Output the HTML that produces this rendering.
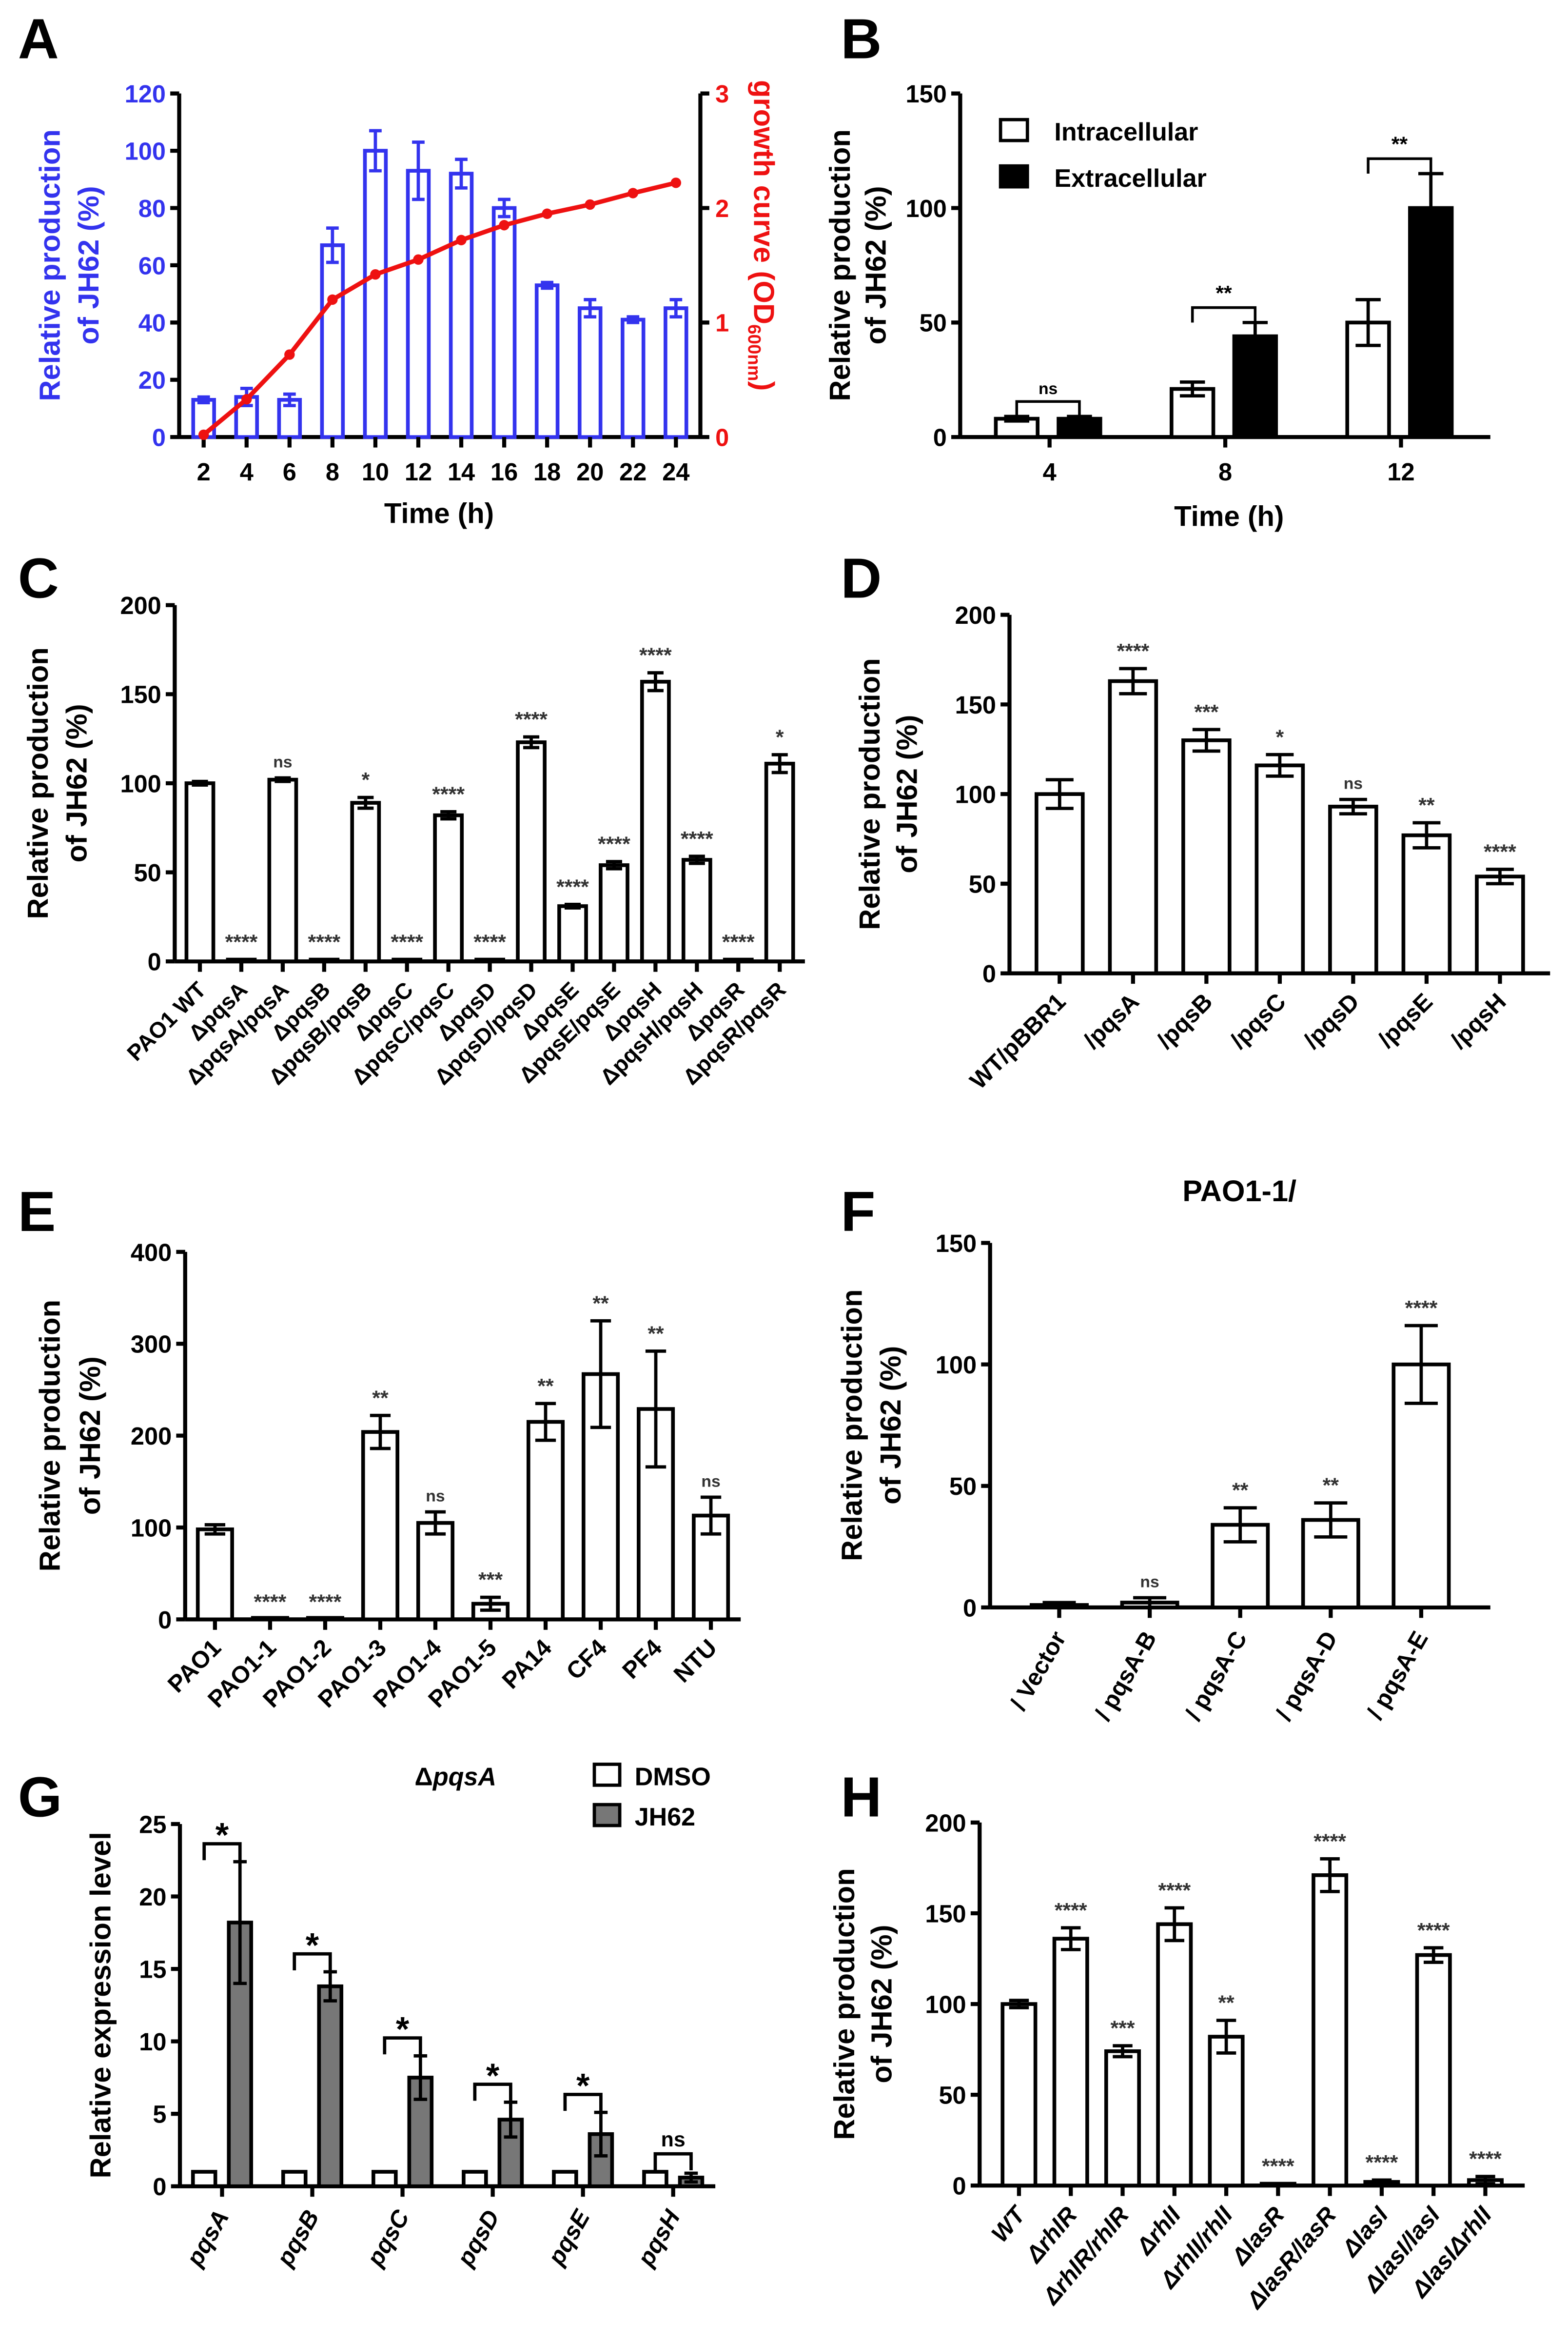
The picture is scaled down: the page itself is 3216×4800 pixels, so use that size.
<!DOCTYPE html>
<html><head><meta charset="utf-8"><style>
html,body{margin:0;padding:0;background:#fff}
svg{display:block}
text{font-family:"Liberation Sans",Arial,sans-serif;font-weight:bold}
</style></head><body>
<svg id="fig" xmlns="http://www.w3.org/2000/svg" width="3216" height="4800" viewBox="0 0 1050 1567"></svg>
<script>
// ---- Panel A data
const aCats=["2","4","6","8","10","12","14","16","18","20","22","24"];
const aVals=[13,14,13,67,100,93,92,80,53,45,41,45];
const aErr=[1,3,2,6,7,10,5,3,1,3,1,3];
const aGrowth=[0.02,0.33,0.72,1.2,1.42,1.55,1.72,1.85,1.95,2.03,2.13,2.22];
const aTicks=[0,20,40,60,80,100,120];
const aRTicks=[0,1,2,3];
// ---- Panel B data
const bCats=["4","8","12"];
const bIntra=[8,21,50];const bIntraErr=[1,3,10];
const bExtra=[8,44,100];const bExtraErr=[1,6,15];
const bSig=["ns","**","**"];
const bTicks=[0,50,100,150];
// ---- Panel C data
const cCats=["PAO1 WT","ΔpqsA","ΔpqsA/pqsA","ΔpqsB","ΔpqsB/pqsB","ΔpqsC","ΔpqsC/pqsC","ΔpqsD","ΔpqsD/pqsD","ΔpqsE","ΔpqsE/pqsE","ΔpqsH","ΔpqsH/pqsH","ΔpqsR","ΔpqsR/pqsR"];
const cVals=[100,1,102,1,89,1,82,1,123,31,54,157,57,1,111];
const cErr=[1,0,1,0,3,0,2,0,3,1,2,5,2,0,5];
const cSig=["","****","ns","****","*","****","****","****","****","****","****","****","****","****","*"];
const cTicks=[0,50,100,150,200];
// ---- Panel D data
const dCats=["WT/pBBR1","/pqsA","/pqsB","/pqsC","/pqsD","/pqsE","/pqsH"];
const dVals=[100,163,130,116,93,77,54];
const dErr=[8,7,6,6,4,7,4];
const dSig=["","****","***","*","ns","**","****"];
const dTicks=[0,50,100,150,200];
// ---- Panel E data
const eCats=["PAO1","PAO1-1","PAO1-2","PAO1-3","PAO1-4","PAO1-5","PA14","CF4","PF4","NTU"];
const eVals=[98,0,0,204,105,17,215,267,229,113];
const eErr=[5,0,0,18,12,7,20,58,63,20];
const eSig=["","****","****","**","ns","***","**","**","**","ns"];
const eTicks=[0,100,200,300,400];
// ---- Panel F data
const fCats=["/ Vector","/ pqsA-B","/ pqsA-C","/ pqsA-D","/ pqsA-E"];
const fVals=[1,2,34,36,100];
const fErr=[1,2,7,7,16];
const fSig=["","ns","**","**","****"];
const fTicks=[0,50,100,150];
// ---- Panel G data
const gCats=["pqsA","pqsB","pqsC","pqsD","pqsE","pqsH"];
const gDmso=[1,1,1,1,1,1];
const gJh=[18.2,13.8,7.5,4.6,3.6,0.6];
const gJhErr=[4.2,1,1.5,1.2,1.5,0.3];
const gSig=["*","*","*","*","*","ns"];
const gTicks=[0,5,10,15,20,25];
// ---- Panel H data
const hCats=["WT","ΔrhlR","ΔrhlR/rhlR","ΔrhlI","ΔrhlI/rhlI","ΔlasR","ΔlasR/lasR","ΔlasI","ΔlasI/lasI","ΔlasIΔrhlI"];
const hVals=[100,136,74,144,82,1,171,2,127,3];
const hErr=[2,6,3,9,9,0,9,1,4,2];
const hSig=["","****","***","****","**","****","****","****","****","****"];
const hTicks=[0,50,100,150,200];

const NS="http://www.w3.org/2000/svg";
const svg=document.getElementById('fig');
function mk(tag,attrs,parent){const e=document.createElementNS(NS,tag);for(const k in attrs)e.setAttribute(k,attrs[k]);(parent||svg).appendChild(e);return e;}
function txt(s,attrs,parent){const e=mk('text',attrs,parent);e.textContent=s;return e;}
function lin(p){return v=>p.y0-(v-p.vmin)/(p.vmax-p.vmin)*(p.y0-p.y1);}

function axes(p,ticks,color,ytitle){
  const g=mk('g',{});
  
  
  const ys=lin(p);
  const c=color||'#000';
  mk('line',{x1:p.x0,y1:p.y0,x2:p.x0,y2:p.y1,stroke:'#000','stroke-width':2.7},g);
  mk('line',{x1:p.x0,y1:p.y0,x2:p.x1,y2:p.y0,stroke:'#000','stroke-width':2.7},g);
  ticks.forEach(t=>{const y=ys(t);
    mk('line',{x1:p.x0-6,y1:y,x2:p.x0,y2:y,stroke:'#000','stroke-width':2.7},g);
    const tl=txt(String(t),{x:p.x0-9,y:y+6,'font-size':16.5,'text-anchor':'end',fill:c},g);
    
    
  });
  const cy=(p.y0+p.y1)/2;
  ytitle.forEach((l,i)=>{const cx=p.tx[i];
    const t=txt(l,{x:cx,y:cy,'font-size':19.5,'text-anchor':'middle',fill:c,transform:`rotate(-90 ${cx} ${cy})`},g);
    
    });
  return ys;
}
function xpos(p,n,i){const w=(p.x1-p.x0-p.pad*2)/n;return p.x0+p.pad+w*(i+0.5);}
function bar(g,cx,w,ys,v,err,fill,stroke,name){
  const y=ys(v);
  const r=mk('rect',{x:cx-w/2,y:Math.min(y,ys(0)-1),width:w,height:Math.max(ys(0)-y,1),fill:fill,stroke:stroke,'stroke-width':2.5},g);
  
  
  if(err>0){const yt=ys(v+err),yb=ys(v-err);
    mk('line',{x1:cx,y1:yt,x2:cx,y2:yb,stroke:stroke,'stroke-width':2.2},g);
    mk('line',{x1:cx-w*0.3,y1:yt,x2:cx+w*0.3,y2:yt,stroke:stroke,'stroke-width':2.2},g);
    mk('line',{x1:cx-w*0.3,y1:yb,x2:cx+w*0.3,y2:yb,stroke:stroke,'stroke-width':2.2},g);}
  return ys(v+err);
}
function xlabels(p,cats,rot,italic,fs){
  const n=cats.length;
  cats.forEach((c,i)=>{const x=xpos(p,n,i);
    mk('line',{x1:x,y1:p.y0,x2:x,y2:p.y0+7,stroke:'#000','stroke-width':2.7});
    let t;
    if(rot){t=txt(c,{x:x+5,y:p.y0+20,'font-size':fs||16,'text-anchor':'end',transform:`rotate(${rot} ${x+5} ${p.y0+20})`,'font-style':italic?'italic':'normal'});}
    else t=txt(c,{x:x,y:p.y0+29,'font-size':fs||16,'text-anchor':'middle'});
    
    
  });
}
function letter(s,x,y){const t=txt(s,{x:x,y:y,'font-size':38});}
function simpleBars(p,cats,vals,errs,sig,bw,rot,fs,italic){
  const g=mk('g',{});
  
  
  const ys=lin(p);
  vals.forEach((v,i)=>{const x=xpos(p,cats.length,i);
    const top=bar(g,x,bw,ys,v,errs[i],'#fff','#000','bar-'+cats[i]);
    if(sig[i]){const s=txt(sig[i],{x:x,y:top-7,'font-size':sig[i]==='ns'?11:14,'text-anchor':'middle',fill:'#333','font-weight':'normal'},g);
      
      }
  });
  xlabels(p,cats,rot,italic,fs);
}

// ===== Panel A
letter('A',12,39);
(function(){
  const p={id:'panel-a',x0:120,x1:469,y0:292.5,y1:62.5,vmin:0,vmax:120,pad:2,tx:[40,66]};
  const ys=axes(p,aTicks,'#3333ee',['Relative production','of JH62 (%)']);
  const yr=v=>p.y0-v/3*(p.y0-p.y1);
  mk('line',{x1:p.x1,y1:p.y0,x2:p.x1,y2:p.y1,stroke:'#000','stroke-width':2.7});
  aRTicks.forEach(t=>{mk('line',{x1:p.x1,y1:yr(t),x2:p.x1+6,y2:yr(t),stroke:'#000','stroke-width':2.7});
    const l=txt(String(t),{x:p.x1+10,y:yr(t)+6,'font-size':16.5,fill:'#ee1111'});
    });
  const rt=txt('growth curve (OD',{x:0,y:0,'font-size':19.5,fill:'#ee1111',transform:`translate(505 ${(p.y0+p.y1)/2-20}) rotate(90)`,'text-anchor':'middle'});
  
  const ts=document.createElementNS(NS,'tspan');ts.setAttribute('font-size','12');ts.setAttribute('dy','4');ts.textContent='600nm';rt.appendChild(ts);
  const ts2=document.createElementNS(NS,'tspan');ts2.setAttribute('dy','-4');ts2.textContent=')';rt.appendChild(ts2);
  const g=mk('g',{});
  aVals.forEach((v,i)=>bar(g,xpos(p,aCats.length,i),14,ys,v,aErr[i],'#fff','#3333ee','bar-'+aCats[i]+'h'));
  xlabels(p,aCats,0,false,16.5);
  const pts=aGrowth.map((v,i)=>xpos(p,aCats.length,i)+','+yr(v)).join(' ');
  const pl=mk('polyline',{points:pts,fill:'none',stroke:'#ee1111','stroke-width':3});
  
  aGrowth.forEach((v,i)=>{const c=mk('circle',{cx:xpos(p,aCats.length,i),cy:yr(v),r:3.5,fill:'#ee1111'});
    });
  const xt=txt('Time (h)',{x:294,y:350,'font-size':19,'text-anchor':'middle'});
})();

// ===== Panel B
letter('B',563,39);
(function(){
  const p={id:'panel-b',x0:643,x1:998,y0:292.5,y1:62.5,vmin:0,vmax:150,pad:1,tx:[569,593]};
  const ys=axes(p,bTicks,'#000',['Relative production','of JH62 (%)']);
  const g=mk('g',{});
  bCats.forEach((c,i)=>{const x=xpos(p,3,i)-1;
    const t1=bar(g,x-21,28,ys,bIntra[i],bIntraErr[i],'#fff','#000','bar-intracellular-'+c);
    const t2=bar(g,x+21,28,ys,bExtra[i],bExtraErr[i],'#000','#000','bar-extracellular-'+c);
    const yb=Math.min(t1,t2)-10;
    mk('path',{d:`M${x-21} ${yb+10} V${yb} H${x+21} V${yb+10}`,fill:'none',stroke:'#000','stroke-width':1.8},g);
    const s=txt(bSig[i],{x:x,y:yb-5,'font-size':bSig[i]==='ns'?11:14,'text-anchor':'middle','font-weight':'normal'},g);
    
  });
  xlabels(p,bCats,0,false,16.5);
  const xt=txt('Time (h)',{x:823,y:352,'font-size':19,'text-anchor':'middle'});
  [['Intracellular','#fff',88],['Extracellular','#000',119]].forEach(([l,f,y])=>{
    const r=mk('rect',{x:670,y:y-8,width:18,height:14,fill:f,stroke:'#000','stroke-width':2.2});
    
    const t=txt(l,{x:706,y:y+6,'font-size':17,'font-weight':'normal'});
    });
})();

// ===== Panel C
letter('C',12,400);
(function(){
  const p={id:'panel-c',x0:117,x1:539,y0:643.5,y1:405,vmin:0,vmax:200,pad:3,tx:[32,58]};
  axes(p,cTicks,'#000',['Relative production','of JH62 (%)']);
  simpleBars(p,cCats,cVals,cErr,cSig,18,-45,15);
})();

// ===== Panel D
letter('D',563,400);
(function(){
  const p={id:'panel-d',x0:676,x1:1038,y0:651.5,y1:411.5,vmin:0,vmax:200,pad:9,tx:[589,614]};
  axes(p,dTicks,'#000',['Relative production','of JH62 (%)']);
  simpleBars(p,dCats,dVals,dErr,dSig,31,-45,16);
})();

// ===== Panel E
letter('E',12,824);
(function(){
  const p={id:'panel-e',x0:124,x1:496,y0:1084,y1:838,vmin:0,vmax:400,pad:1.5,tx:[40,67]};
  axes(p,eTicks,'#000',['Relative production','of JH62 (%)']);
  simpleBars(p,eCats,eVals,eErr,eSig,23,-45,16);
})();

// ===== Panel F
letter('F',563,824);
(function(){
  const p={id:'panel-f',x0:663,x1:998,y0:1076,y1:832,vmin:0,vmax:150,pad:16,tx:[577,603]};
  axes(p,fTicks,'#000',['Relative production','of JH62 (%)']);
  simpleBars(p,fCats,fVals,fErr,fSig,37,-60,16);
  const t=txt('PAO1-1/',{x:830,y:804,'font-size':20,'text-anchor':'middle'});
})();

// ===== Panel G
letter('G',12,1216);
(function(){
  const p={id:'panel-g',x0:120.5,x1:479,y0:1463.5,y1:1221,vmin:0,vmax:25,pad:-2,tx:[74]};
  const ys=axes(p,gTicks,'#000',['Relative expression level']);
  const g=mk('g',{});
  gCats.forEach((c,i)=>{const x=xpos(p,6,i);
    const t1=bar(g,x-12,15,ys,gDmso[i],0,'#fff','#000','bar-dmso-'+c);
    const t2=bar(g,x+12,15,ys,gJh[i],gJhErr[i],'#777','#000','bar-jh62-'+c);
    const yb=Math.min(t1,t2)-12;
    mk('path',{d:`M${x-12} ${yb+11} V${yb} H${x+12} V${yb+11}`,fill:'none',stroke:'#000','stroke-width':2.2},g);
    const s=txt(gSig[i],{x:x,y:gSig[i]==='ns'?yb-5:yb+2,'font-size':gSig[i]==='ns'?14:23,'text-anchor':'middle'},g);
    
  });
  xlabels(p,gCats,-60,true,16);
  const t=txt('',{x:305,y:1195,'font-size':17,'text-anchor':'middle'});
  t.innerHTML='Δ<tspan font-style="italic">pqsA</tspan>';
  [['DMSO','#fff',1189],['JH62','#777',1216]].forEach(([l,f,y])=>{
    const r=mk('rect',{x:398,y:y-8,width:17,height:14,fill:f,stroke:'#000','stroke-width':2.2});
    
    const tt=txt(l,{x:425,y:y+6,'font-size':17});
    });
})();

// ===== Panel H
letter('H',563,1216);
(function(){
  const p={id:'panel-h',x0:656,x1:1021,y0:1463,y1:1220,vmin:0,vmax:200,pad:9,tx:[572,597]};
  axes(p,hTicks,'#000',['Relative production','of JH62 (%)']);
  simpleBars(p,hCats,hVals,hErr,hSig,22,-50,16,true);
})();
</script>
</body></html>
